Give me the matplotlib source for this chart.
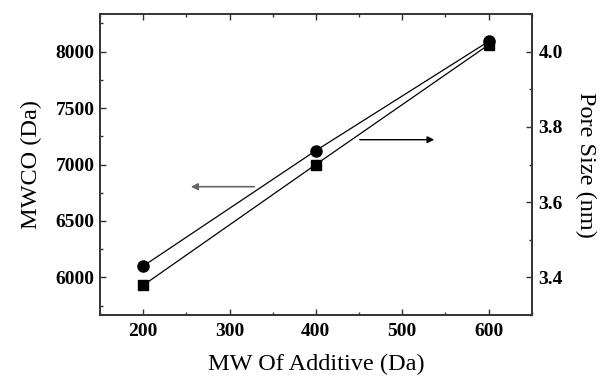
import matplotlib
matplotlib.use("Agg")
import matplotlib.pyplot as plt
from matplotlib.ticker import MultipleLocator, FormatStrFormatter

mw_additive = [200, 400, 600]
mwco = [5930, 7000, 8060]
pore_size = [3.43, 3.737, 4.027]

plt.rcParams['font.family'] = ['Liberation Serif', 'DejaVu Serif']

fig = plt.figure(figsize=(6.02, 3.78), dpi=100)
ax = fig.add_axes([100/602, 1-315/378, 431.7/602, 301/378])
ax2 = ax.twinx()

ax.plot(mw_additive, mwco, color='black', lw=0.9, marker='s', ms=7.5, mfc='black', mec='black', zorder=3)
ax2.plot(mw_additive, pore_size, color='black', lw=0.9, marker='o', ms=8, mfc='black', mec='black', zorder=3)

ax.set_xlim(150, 650)
ax.set_ylim(5666.7, 8333.3)
ax2.set_ylim(3.3, 4.1)

ax.xaxis.set_major_locator(MultipleLocator(100))
ax.xaxis.set_minor_locator(MultipleLocator(50))
ax.yaxis.set_major_locator(MultipleLocator(500))
ax.yaxis.set_minor_locator(MultipleLocator(250))
ax2.yaxis.set_major_locator(MultipleLocator(0.2))
ax2.yaxis.set_minor_locator(MultipleLocator(0.1))
ax2.yaxis.set_major_formatter(FormatStrFormatter('%.1f'))

ax.tick_params(axis='x', which='both', direction='in', top=True, bottom=True, colors='#333333', labelcolor='black', pad=6)
ax.tick_params(axis='y', which='both', direction='in', left=True, right=False, colors='#333333', labelcolor='black', pad=4)
ax2.tick_params(axis='y', which='both', direction='in', right=True, colors='#333333', labelcolor='black', pad=5)
for a in (ax, ax2):
    a.tick_params(which='major', length=4, width=1)
    a.tick_params(which='minor', length=2.5, width=1)
    for s in a.spines.values():
        s.set_color('#333333')
        s.set_linewidth(1.2)

for lab in ax.get_xticklabels() + ax.get_yticklabels() + ax2.get_yticklabels():
    lab.set_fontweight('bold')
    lab.set_fontsize(14)

ax.set_xlabel('MW Of Additive (Da)', fontsize=17.5, labelpad=10)
ax.set_ylabel('MWCO (Da)', fontsize=17.5, labelpad=10)
ax2.set_ylabel('Pore Size (nm)', fontsize=17.5, rotation=270, labelpad=24)

# arrows indicating axes (figure pixels, origin bottom-left)
H = 378
ax.annotate('', xy=(188, H - 186.7), xytext=(257, H - 186.7), xycoords='figure pixels',
            arrowprops=dict(arrowstyle='-|>', color='#666666', lw=1.2, mutation_scale=10))
ax.annotate('', xy=(437, H - 139.7), xytext=(357, H - 139.7), xycoords='figure pixels',
            arrowprops=dict(arrowstyle='-|>', color='black', lw=1.0, mutation_scale=10))

fig.savefig('out.png', dpi=100)
